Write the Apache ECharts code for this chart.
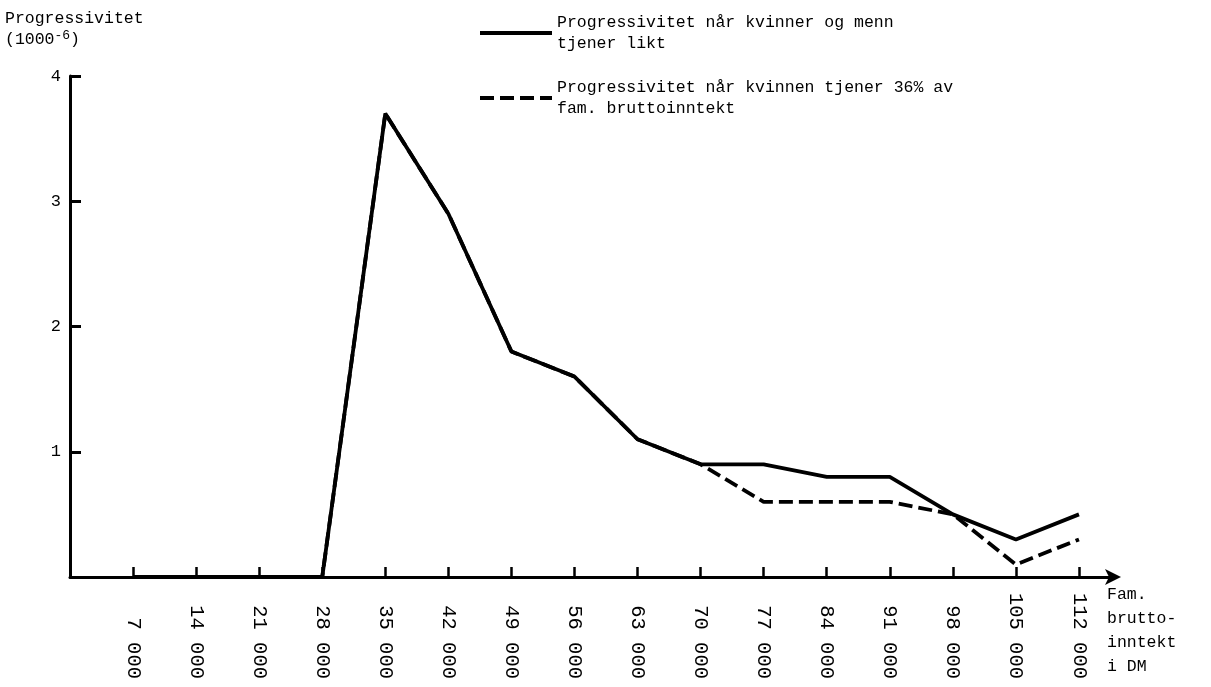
<!DOCTYPE html>
<html>
<head>
<meta charset="utf-8">
<title>Progressivitet</title>
<script src="https://cdn.jsdelivr.net/npm/echarts@6/dist/echarts.min.js"></script>
<style>
    html, body { margin: 0; padding: 0; background: #fff; }
    #chart { width: 1211px; height: 687px; }
</style>
</head>
<body>
<div id="chart"></div>
<script>
// Fam. bruttoinntekt i DM
var incomes = [7000, 14000, 21000, 28000, 35000, 42000, 49000, 56000,
    63000, 70000, 77000, 84000, 91000, 98000, 105000, 112000];
// progressivitet naar kvinner og menn tjener likt
var equalPay = [0, 0, 0, 0, 3.7, 2.9, 1.8, 1.6, 1.1, 0.9, 0.9, 0.8, 0.8, 0.5, 0.3, 0.5];
// progressivitet naar kvinnen tjener 36%
var womanShare36 = [0, 0, 0, 0, 3.7, 2.9, 1.8, 1.6, 1.1, 0.9, 0.6, 0.6, 0.6, 0.5, 0.1, 0.3];
var yTicks = [1, 2, 3, 4];

var nameEqual = 'Progressivitet når kvinner og menn\ntjener likt';
var name36 = 'Progressivitet når kvinnen tjener 36% av\nfam. bruttoinntekt';

var font = '"Liberation Mono", "DejaVu Sans Mono", monospace';

function pairs(xs, ys) {
    var out = [];
    for (var i = 0; i < xs.length; i++) {
        out.push([xs[i], ys[i]]);
    }
    return out;
}

// 7000 -> "7 000"
function fmtIncome(v) {
    var s = String(v);
    return s.slice(0, s.length - 3) + ' ' + s.slice(-3);
}

var chart = echarts.init(document.getElementById('chart'));

chart.setOption({
    backgroundColor: '#fff',
    animation: false,
    textStyle: {fontFamily: font, color: '#000'},
    title: {
        left: 0,
        top: 3,
        text: '{a|Progressivitet}\n{a|(1000}{sup|-6}{a|)}',
        textStyle: {
            fontWeight: 'normal',
            rich: {
                a: {fontFamily: font, fontSize: 16.5, fontWeight: 'normal', color: '#000', lineHeight: 21},
                sup: {fontFamily: font, fontSize: 13, fontWeight: 'normal', color: '#000', verticalAlign: 'top', lineHeight: 21}
            }
        }
    },
    legend: {
        orient: 'vertical',
        left: 473,
        top: 7,
        itemWidth: 72,
        itemHeight: 14,
        itemGap: 23,
        data: [nameEqual, name36],
        itemStyle: {opacity: 0},
        lineStyle: {width: 4},
        textStyle: {fontFamily: font, fontSize: 16.5, color: '#000', lineHeight: 21}
    },
    grid: {
        left: 70,
        right: 96,
        top: 76,
        bottom: 110
    },
    xAxis: {
        type: 'value',
        min: 0,
        max: 116000,
        splitLine: {show: false},
        name: 'Fam.\nbrutto-\ninntekt\ni DM',
        nameLocation: 'end',
        nameGap: 0,
        nameTextStyle: {
            fontFamily: font, fontSize: 16.5, color: '#000', lineHeight: 24,
            align: 'left', verticalAlign: 'top', padding: [6, 0, 0, -8]
        },
        axisLine: {
            lineStyle: {color: '#000', width: 3},
            symbol: ['none', 'arrow'],
            symbolSize: [12, 16],
            symbolOffset: [0, 6]
        },
        axisTick: {
            inside: true,
            length: 10,
            customValues: incomes,
            lineStyle: {color: '#000', width: 2.5}
        },
        axisLabel: {
            customValues: incomes,
            rotate: -90,
            align: 'right',
            verticalAlign: 'middle',
            margin: 102,
            fontFamily: font,
            fontSize: 20.5,
            color: '#000',
            formatter: fmtIncome
        }
    },
    yAxis: {
        type: 'value',
        min: 0,
        max: 4,
        interval: 1,
        splitLine: {show: false},
        axisLine: {show: true, lineStyle: {color: '#000', width: 3}},
        axisTick: {
            inside: true,
            length: 11,
            customValues: yTicks,
            lineStyle: {color: '#000', width: 3}
        },
        axisLabel: {
            customValues: yTicks,
            margin: 9,
            fontFamily: font,
            fontSize: 17,
            color: '#000'
        }
    },
    series: [
        {
            name: nameEqual,
            type: 'line',
            symbol: 'none',
            data: pairs(incomes, equalPay),
            lineStyle: {color: '#000', width: 3.8, type: 'solid'},
            itemStyle: {color: '#000'}
        },
        {
            name: name36,
            type: 'line',
            symbol: 'none',
            data: pairs(incomes, womanShare36),
            lineStyle: {color: '#000', width: 3.8, type: [14, 6]},
            itemStyle: {color: '#000'}
        }
    ]
});

window.onresize = function () {
    chart.resize();
};
</script>
</body>
</html>
